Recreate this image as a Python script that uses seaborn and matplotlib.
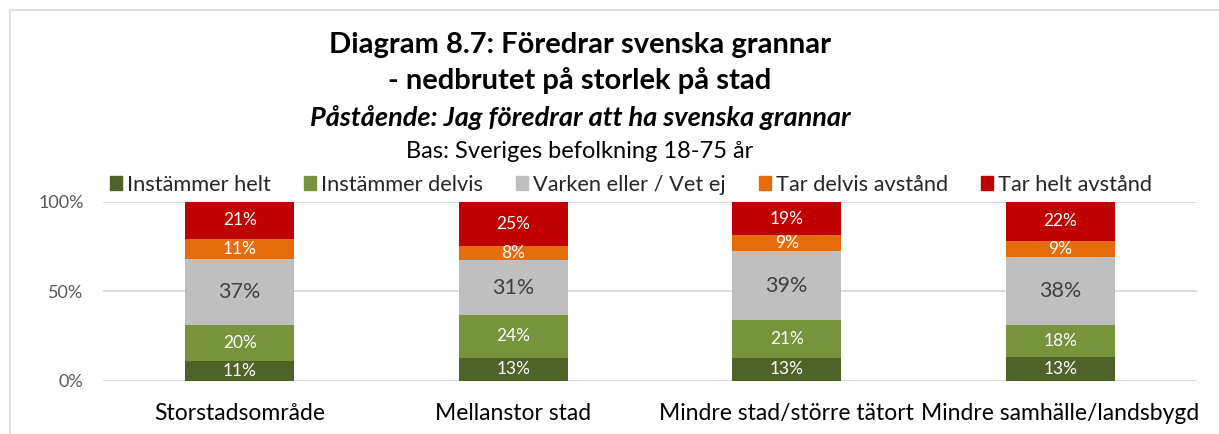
import numpy as np
import pandas as pd
import matplotlib
matplotlib.use("Agg")
import matplotlib.pyplot as plt
import seaborn as sns
from matplotlib.patches import Rectangle

categories = ["Storstadsområde", "Mellanstor stad", "Mindre stad/större tätort", "Mindre samhälle/landsbygd"]
series_names = ["Instämmer helt", "Instämmer delvis", "Varken eller / Vet ej", "Tar delvis avstånd", "Tar helt avstånd"]
instammer_helt = [11, 13, 13, 13]
instammer_delvis = [20, 24, 21, 18]
varken_eller = [37, 31, 39, 38]
tar_delvis = [11, 8, 9, 9]
tar_helt = [21, 25, 19, 22]
ytick_labels = ["0%", "50%", "100%"]

colors = ["#4F6228", "#77933C", "#BFBFBF", "#E46C0A", "#C00000"]

sns.set_theme(style="white")
plt.rcParams["font.family"] = ["Lato", "DejaVu Sans"]

series = [instammer_helt, instammer_delvis, varken_eller, tar_delvis, tar_helt]
vals = np.array(series, dtype=float)
shares = vals / vals.sum(axis=0) * 100
cum = np.cumsum(shares, axis=0)

fig = plt.figure(figsize=(12.19, 4.34), dpi=100)
ax = fig.add_axes([103 / 1219, 1 - 380.7 / 434, (1197 - 103) / 1219, (380.7 - 201.7) / 434])

# gridlines behind
for yv in [0, 50, 100]:
    ax.axhline(yv, color="#D9D9D9", lw=1.3, zorder=0)

for i in range(len(series_names) - 1, -1, -1):
    df = pd.DataFrame({"cat": categories, "val": cum[i]})
    sns.barplot(data=df, x="cat", y="val", order=categories, color=colors[i],
                width=0.4, saturation=1, ax=ax, zorder=2, linewidth=0, errorbar=None)

# data labels
for i in range(len(series_names)):
    for j in range(len(categories)):
        mid = cum[i][j] - shares[i][j] / 2
        if i == 2:
            ax.text(j, mid, f"{series[i][j]}%", ha="center", va="center",
                    fontsize=15.5, color="#404040", zorder=5)
        else:
            ax.text(j, mid, f"{series[i][j]}%", ha="center", va="center",
                    fontsize=12.5, color="white", zorder=5)

ax.set_xlim(-0.5, 3.5)
ax.set_ylim(0, 100)
ax.set_yticks([0, 50, 100])
ax.set_yticklabels(ytick_labels, fontsize=13, color="#595959")
ax.set_xlabel("")
ax.set_ylabel("")
ax.tick_params(axis="x", labelsize=16.5, colors="#000000", pad=16, length=0)
ax.tick_params(axis="y", pad=14, length=0)
for s in ax.spines.values():
    s.set_visible(False)

# titles
fig.text(580 / 1219, 1 - 45 / 434, "Diagram 8.7: Föredrar svenska grannar", ha="center", va="center",
         fontsize=21, fontweight="bold", color="black")
fig.text(580 / 1219, 1 - 80 / 434, "- nedbrutet på storlek på stad", ha="center", va="center",
         fontsize=21, fontweight="bold", color="black")
fig.text(580 / 1219, 1 - 117 / 434, "Påstående: Jag föredrar att ha svenska grannar", ha="center", va="center",
         fontsize=19.5, fontweight="bold", fontstyle="italic", color="black")
fig.text(580 / 1219, 1 - 152 / 434, "Bas: Sveriges befolkning 18-75 år", ha="center", va="center",
         fontsize=17, color="black")

# legend
handles = [Rectangle((0, 0), 1, 1, color=c) for c in colors]
leg = fig.legend(handles, series_names, loc="center", bbox_to_anchor=(631 / 1219, 1 - 185 / 434),
                 ncol=5, frameon=False, fontsize=15.7, handlelength=0.55, handleheight=0.6,
                 handletextpad=0.25, columnspacing=1.5)

# chart border
fig.patches.append(Rectangle((10 / 1219, -0.1), 1.2, 1 - 10 / 434 + 0.1, transform=fig.transFigure,
                             fill=False, edgecolor="#D9D9D9", lw=1.2))

fig.savefig("out.png", dpi=100, facecolor="white")
